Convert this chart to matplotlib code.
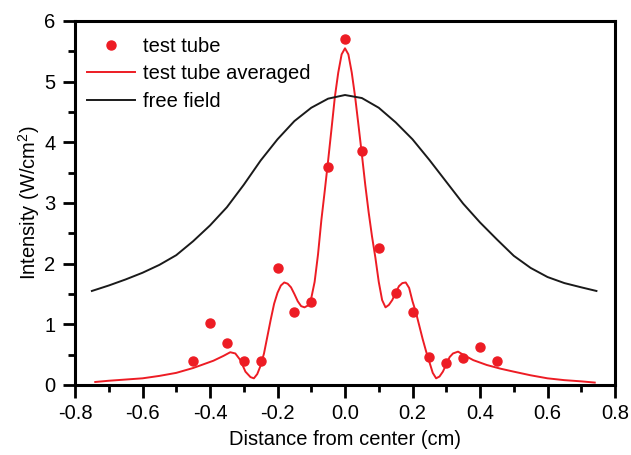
import matplotlib
matplotlib.use("Agg")
import matplotlib.pyplot as plt
from matplotlib.ticker import MultipleLocator

# measured points
tube_x = [-0.45, -0.40, -0.35, -0.30, -0.25, -0.20, -0.15, -0.10, -0.05, 0.00,
          0.05, 0.10, 0.15, 0.20, 0.25, 0.30, 0.35, 0.40, 0.45]
tube_y = [0.40, 1.02, 0.70, 0.40, 0.40, 1.93, 1.21, 1.36, 3.60, 5.70,
          3.86, 2.26, 1.51, 1.21, 0.46, 0.37, 0.44, 0.63, 0.40]

# averaged curve
avg_x = [-0.74, -0.70, -0.65, -0.60, -0.55, -0.50, -0.45, -0.42, -0.39, -0.36,
         -0.34, -0.325, -0.31, -0.295, -0.28, -0.27, -0.26, -0.25, -0.24, -0.23,
         -0.22, -0.21, -0.20, -0.19, -0.18, -0.17, -0.16, -0.15, -0.14, -0.13,
         -0.12, -0.11, -0.10, -0.09, -0.08, -0.07, -0.06, -0.05, -0.04, -0.03,
         -0.02, -0.01, 0.00,
         0.01, 0.02, 0.03, 0.04, 0.05, 0.06, 0.07, 0.08, 0.09, 0.10,
         0.11, 0.12, 0.13, 0.14, 0.15, 0.16, 0.17, 0.18, 0.19, 0.20,
         0.21, 0.22, 0.23, 0.24, 0.25, 0.26, 0.27, 0.28, 0.29, 0.30,
         0.31, 0.32, 0.335, 0.35, 0.38, 0.42, 0.46, 0.50, 0.55, 0.60,
         0.65, 0.70, 0.74]
avg_y = [0.05, 0.07, 0.09, 0.11, 0.15, 0.20, 0.28, 0.34, 0.40, 0.48,
         0.54, 0.52, 0.41, 0.22, 0.13, 0.11, 0.18, 0.32, 0.52, 0.80,
         1.08, 1.34, 1.52, 1.64, 1.69, 1.67, 1.61, 1.50, 1.38, 1.30,
         1.28, 1.31, 1.43, 1.70, 2.15, 2.72, 3.20, 3.70, 4.22, 4.75,
         5.15, 5.45, 5.55,
         5.45, 5.15, 4.75, 4.28, 3.80, 3.30, 2.85, 2.45, 2.10, 1.70,
         1.40, 1.28, 1.32, 1.40, 1.52, 1.63, 1.68, 1.69, 1.60, 1.38,
         1.20, 0.98, 0.76, 0.56, 0.38, 0.20, 0.11, 0.14, 0.22, 0.34,
         0.46, 0.52, 0.55, 0.50, 0.41, 0.33, 0.27, 0.22, 0.16, 0.11,
         0.08, 0.06, 0.04]

# free field
free_x = [-0.75, -0.70, -0.65, -0.60, -0.55, -0.50, -0.45, -0.40, -0.35, -0.30,
          -0.25, -0.20, -0.15, -0.10, -0.05, 0.00, 0.05, 0.10, 0.15, 0.20,
          0.25, 0.30, 0.35, 0.40, 0.45, 0.50, 0.55, 0.60, 0.65, 0.70, 0.745]
free_y = [1.55, 1.64, 1.74, 1.85, 1.98, 2.14, 2.37, 2.63, 2.93, 3.30,
          3.70, 4.05, 4.35, 4.57, 4.72, 4.78, 4.73, 4.57, 4.33, 4.05,
          3.71, 3.35, 2.99, 2.68, 2.40, 2.13, 1.93, 1.78, 1.68, 1.61, 1.55]

RED = "#ED1C24"

plt.rcParams.update({
    "font.family": ["Liberation Sans", "DejaVu Sans"],
    "font.size": 14.5,
    "mathtext.fontset": "custom",
    "mathtext.rm": "Liberation Sans",
    "mathtext.it": "Liberation Sans",
    "mathtext.default": "regular",
})

fig = plt.figure(figsize=(6.31, 4.55), dpi=100)
ax = fig.add_axes([75 / 631, 70 / 455, 540 / 631, 364 / 455])

ax.plot(tube_x, tube_y, "o", color=RED, ms=6.5, label="test tube")
ax.plot(avg_x, avg_y, "-", color=RED, lw=1.4, label="test tube averaged")
ax.plot(free_x, free_y, "-", color="#1a1a1a", lw=1.4, label="free field")

ax.set_xlim(-0.8, 0.8)
ax.set_ylim(0, 6)
ax.xaxis.set_major_locator(MultipleLocator(0.2))
ax.xaxis.set_minor_locator(MultipleLocator(0.1))
ax.yaxis.set_major_locator(MultipleLocator(1))
ax.yaxis.set_minor_locator(MultipleLocator(0.5))
ax.set_xticklabels([f"{v:.1f}" for v in ax.get_xticks()])
ax.tick_params(which="major", direction="out", length=9, width=2.0, pad=5)
ax.tick_params(which="minor", direction="out", length=5, width=2.0)
for sp in ax.spines.values():
    sp.set_linewidth(2.2)

ax.set_xlabel("Distance from center (cm)", labelpad=5)
ax.set_ylabel("Intensity (W/cm$^{2}$)", labelpad=2)

ax.legend(loc="upper left", frameon=False, handlelength=2.4, handletextpad=0.4,
          labelspacing=0.42, borderaxespad=0.2, bbox_to_anchor=(0.0, 0.99))

fig.savefig("out.png", dpi=100)
